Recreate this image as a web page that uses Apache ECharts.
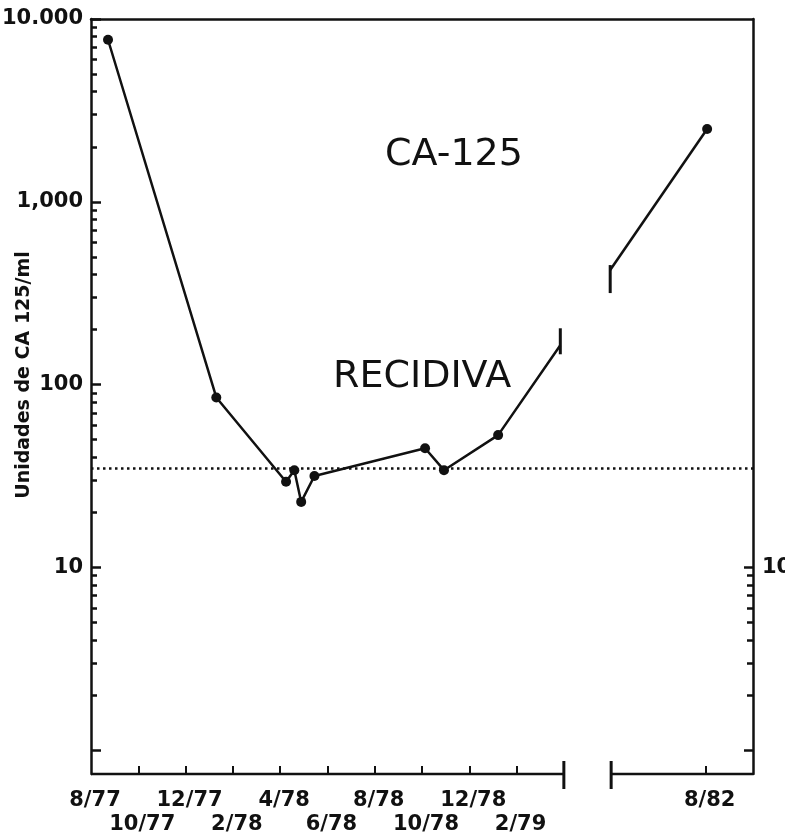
<!doctype html>
<html>
<head>
<meta charset="utf-8">
<title>CA-125</title>
<script src="https://cdn.jsdelivr.net/npm/echarts@6.0.0/dist/echarts.min.js"></script>
</head>
<body style="margin:0;background:#fff">
<div id="container" style="width:785px;height:835px;"></div>
<script>
// eje x en meses desde 8/77, comprimido: el corte va de 20 (4/79) a 22, y 26 = 8/82
var monthsA = [0.72, 5.30, 8.25, 8.60, 8.89, 9.45, 14.13, 14.93, 17.22, 19.85];
var valuesA = [7700, 85, 29.4, 34, 22.8, 31.6, 44.8, 34, 52.9, 164];
var monthsB = [21.96, 26.06];
var valuesB = [423, 2500];
var cutoff = 35; // linea punteada (U/ml)

// etiquetas en dos filas
var xLabelValues1 = [0, 4, 8, 12, 16, 26];
var xLabels1 = ['8/77', '12/77', '4/78', '8/78', '12/78', '8/82'];
var xLabelValues2 = [2, 6, 10, 14, 18];
var xLabels2 = ['10/77', '2/78', '6/78', '10/78', '2/79'];
var xTickValues = [2, 4, 6, 8, 10, 12, 14, 16, 18, 26];
var axisSegments = [[0, 20], [22, 28]];
var breakValues = [20, 22];

var yLabelValues = [10, 100, 1000, 10000];
var yLabels = ['10', '100', '1,000', '10.000'];
var yMajorTicks = [1, 10, 100, 1000, 10000];
var yMinorTicks = [];
[1, 10, 100, 1000].forEach(function (d) {
    for (var k = 2; k <= 9; k++) yMinorTicks.push(k * d);
});
var rightMajorTicks = [1, 10];
var rightMinorTicks = [2, 3, 4, 5, 6, 7, 8, 9];

var xMin = 0, xMax = 28, yMin = 0.74, yMax = 10000;
var ink = '#111';
var font = 'DejaVu Sans';

function pairs(xs, ys) {
    return xs.map(function (x, i) { return [x, ys[i]]; });
}

var dataA = pairs(monthsA, valuesA);
// el ultimo punto antes del corte termina en una barrita
dataA[dataA.length - 1] = {
    value: dataA[dataA.length - 1],
    symbol: 'rect', symbolSize: [3, 26], symbolOffset: [0, -4]
};
var dataB = pairs(monthsB, valuesB);
dataB[0] = { value: dataB[0], symbol: 'rect', symbolSize: [3, 28], symbolOffset: [0, 9] };

function logAxis(pos, extra) {
    var a = {
        type: 'log', logBase: 10, min: yMin, max: yMax, position: pos,
        splitLine: { show: false },
        axisLine: { show: false, onZero: false },
        axisLabel: { show: false },
        axisTick: { show: false }
    };
    for (var k in extra) a[k] = extra[k];
    return a;
}

function labelAxis(values, names, margin) {
    return {
        type: 'value', min: xMin, max: xMax, position: 'bottom',
        splitLine: { show: false }, axisLine: { show: false, onZero: false }, axisTick: { show: false },
        axisLabel: {
            show: true, customValues: values, margin: margin,
            showMinLabel: true, showMaxLabel: true, hideOverlap: false,
            fontFamily: font, fontSize: 21, fontWeight: 'bold', color: ink,
            padding: [0, 0, 0, 8],
            formatter: function (v) {
                var i = values.indexOf(v);
                return i < 0 ? '' : names[i];
            }
        }
    };
}

var bottomAxis = labelAxis(xLabelValues1, xLabels1, 16);
bottomAxis.axisTick = { show: true, inside: true, length: 8, customValues: xTickValues,
                        lineStyle: { color: ink, width: 2 } };

var option = {
    animation: false,
    backgroundColor: '#fff',
    title: [
        { text: 'CA-125', left: 385, top: 136, padding: 0,
          textStyle: { fontFamily: font, fontSize: 38, fontWeight: 'normal', color: ink } },
        { text: 'RECIDIVA', left: 333, top: 358, padding: 0,
          textStyle: { fontFamily: font, fontSize: 38, fontWeight: 'normal', color: ink } }
    ],
    graphic: [{
        type: 'text', x: 24, y: 375, rotation: Math.PI / 2, silent: true,
        style: { text: 'Unidades de CA 125/ml', fill: ink, font: 'bold 19px "DejaVu Sans"',
                 align: 'center', verticalAlign: 'middle' }
    }],
    grid: { left: 91, right: 32, top: 19, bottom: 61, containLabel: false, outerBoundsMode: 'none' },
    xAxis: [
        bottomAxis,
        {
            type: 'value', min: xMin, max: xMax, position: 'top',
            splitLine: { show: false },
            axisLine: { show: true, onZero: false, lineStyle: { color: ink, width: 2.5 } },
            axisTick: { show: false }, axisLabel: { show: false }
        },
        labelAxis(xLabelValues2, xLabels2, 40)
    ],
    yAxis: [
        logAxis('left', {
            axisLine: { show: true, onZero: false, lineStyle: { color: ink, width: 2.5 } },
            axisTick: { show: true, inside: true, length: 10, customValues: yMajorTicks,
                        lineStyle: { color: ink, width: 2.5 } },
            axisLabel: {
                show: true, customValues: yLabelValues, margin: 8,
                showMinLabel: true, showMaxLabel: true,
                fontFamily: font, fontSize: 21, fontWeight: 'bold', color: ink,
                formatter: function (v) {
                    var i = yLabelValues.indexOf(v);
                    return i < 0 ? '' : yLabels[i];
                }
            }
        }),
        logAxis('left', {
            axisTick: { show: true, inside: true, length: 6, customValues: yMinorTicks,
                        lineStyle: { color: ink, width: 2.5 } }
        }),
        logAxis('right', {
            axisLine: { show: true, onZero: false, lineStyle: { color: ink, width: 2.5 } },
            axisTick: { show: true, inside: true, length: 9, customValues: rightMajorTicks,
                        lineStyle: { color: ink, width: 2.5 } },
            axisLabel: {
                show: true, customValues: [10], margin: 9,
                fontFamily: font, fontSize: 21, fontWeight: 'bold', color: ink,
                formatter: function (v) { return v === 10 ? '10' : ''; }
            }
        }),
        logAxis('right', {
            axisTick: { show: true, inside: true, length: 6, customValues: rightMinorTicks,
                        lineStyle: { color: ink, width: 2.5 } }
        })
    ],
    series: [
        {
            type: 'line', data: dataA, xAxisIndex: 0, yAxisIndex: 0,
            symbol: 'circle', symbolSize: 10,
            itemStyle: { color: ink },
            lineStyle: { color: ink, width: 2.5 },
            markLine: {
                silent: true, symbol: 'none', label: { show: false },
                lineStyle: { color: ink, width: 2.5, type: [2.5, 3.5] },
                data: [{ yAxis: cutoff }]
            }
        },
        {
            type: 'line', data: dataB, xAxisIndex: 0, yAxisIndex: 0,
            symbol: 'circle', symbolSize: 10,
            itemStyle: { color: ink },
            lineStyle: { color: ink, width: 2.5 }
        },
        {
            // eje inferior cortado, con las marcas del corte
            type: 'custom', xAxisIndex: 0, yAxisIndex: 0, silent: true, clip: false,
            data: axisSegments.map(function (s) { return [s[0], s[1], yMin]; }),
            encode: { x: [0, 1], y: 2 },
            renderItem: function (params, api) {
                var s = api.value(0), e = api.value(1);
                var p0 = api.coord([s, yMin]), p1 = api.coord([e, yMin]);
                var style = { stroke: ink, lineWidth: 2.5 };
                var kids = [{ type: 'line', shape: { x1: p0[0], y1: p0[1], x2: p1[0], y2: p1[1] }, style: style }];
                [[s, p0], [e, p1]].forEach(function (q) {
                    if (breakValues.indexOf(q[0]) >= 0) {
                        kids.push({ type: 'line',
                            shape: { x1: q[1][0], y1: q[1][1] - 13, x2: q[1][0], y2: q[1][1] + 15 },
                            style: { stroke: ink, lineWidth: 3 } });
                    }
                });
                return { type: 'group', children: kids };
            }
        }
    ]
};

var myChart = echarts.init(document.getElementById('container'));
myChart.setOption(option);
</script>
</body>
</html>
